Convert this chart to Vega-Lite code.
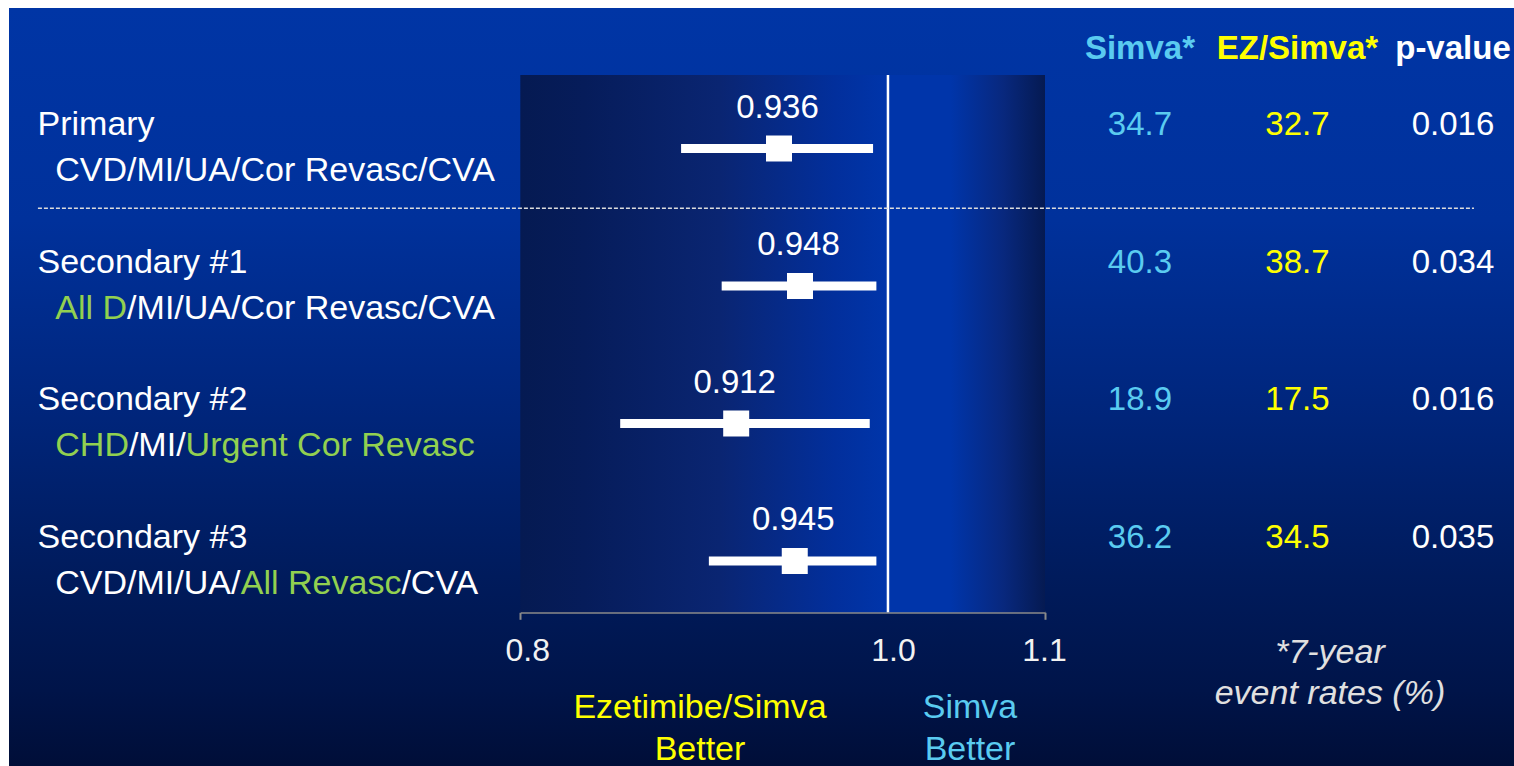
{
  "$schema": "https://vega.github.io/schema/vega-lite/v6.json",
  "width": 1505,
  "height": 758,
  "autosize": {"type": "none"},
  "padding": {"left": 9, "top": 8, "right": 0, "bottom": 0},
  "background": "#ffffff",
  "view": {
    "stroke": null,
    "fill": {
      "gradient": "linear", "x1": 0, "y1": 0, "x2": 0, "y2": 1,
      "stops": [
        {"offset": 0, "color": "#0035a5"},
        {"offset": 0.28, "color": "#00319b"},
        {"offset": 0.5, "color": "#002780"},
        {"offset": 0.75, "color": "#001b5c"},
        {"offset": 0.9, "color": "#001449"},
        {"offset": 1, "color": "#000e38"}
      ]
    }
  },
  "config": {
    "font": "Liberation Sans",
    "view": {"stroke": null},
    "axisY": {"disable": true},
    "text": {"font": "Liberation Sans"}
  },
  "datasets": {
    "results": [
      {"row": 1, "outcome": "Primary", "hr": 0.936, "lo": 0.882, "hi": 0.991, "simva": 34.7, "ezsimva": 32.7, "p": 0.016},
      {"row": 2, "outcome": "Secondary #1", "hr": 0.948, "lo": 0.904, "hi": 0.993, "simva": 40.3, "ezsimva": 38.7, "p": 0.034},
      {"row": 3, "outcome": "Secondary #2", "hr": 0.912, "lo": 0.850, "hi": 0.989, "simva": 18.9, "ezsimva": 17.5, "p": 0.016},
      {"row": 4, "outcome": "Secondary #3", "hr": 0.945, "lo": 0.897, "hi": 0.993, "simva": 36.2, "ezsimva": 34.5, "p": 0.035}
    ],
    "endpoints": [
      {"row": 1, "part": 1, "label": "CVD/MI/UA/Cor Revasc/CVA", "tone": "plain"},
      {"row": 2, "part": 1, "label": "All D", "tone": "new"},
      {"row": 2, "part": 2, "label": "/MI/UA/Cor Revasc/CVA", "tone": "plain"},
      {"row": 3, "part": 1, "label": "CHD", "tone": "new"},
      {"row": 3, "part": 2, "label": "/MI/", "tone": "plain"},
      {"row": 3, "part": 3, "label": "Urgent Cor Revasc", "tone": "new"},
      {"row": 4, "part": 1, "label": "CVD/MI/UA/", "tone": "plain"},
      {"row": 4, "part": 2, "label": "All Revasc", "tone": "new"},
      {"row": 4, "part": 3, "label": "/CVA", "tone": "plain"}
    ]
  },
  "layer": [
    {
      "data": {"values": [{}]},
      "mark": {
        "type": "rect",
        "color": {
          "gradient": "linear", "x1": 0, "y1": 0, "x2": 1, "y2": 0,
          "stops": [
            {"offset": 0, "color": "#051a52"},
            {"offset": 0.12, "color": "#061c5a"},
            {"offset": 0.38, "color": "#0a2572"},
            {"offset": 0.6, "color": "#022f9c"},
            {"offset": 0.7, "color": "#0035aa"},
            {"offset": 0.82, "color": "#0035aa"},
            {"offset": 0.92, "color": "#08287e"},
            {"offset": 1, "color": "#051a52"}
          ]
        }
      },
      "encoding": {
        "x": {
          "datum": 0.8, "type": "quantitative",
          "scale": {"type": "log", "domain": [0.8, 1.1], "range": [511.3, 1036], "nice": false},
          "axis": {
            "values": [0.8, 1, 1.1],
            "format": ".1f",
            "title": null,
            "grid": false,
            "offset": -153.7,
            "domainColor": "#8a8a8a",
            "domainWidth": 2,
            "tickColor": "#8a8a8a",
            "tickWidth": 2,
            "tickSize": 7,
            "tickOpacity": {"condition": {"test": "datum.value == 1", "value": 0}, "value": 1},
            "labelFont": "Liberation Sans",
            "labelFontSize": 32,
            "labelColor": "#f2f2f2",
            "labelPadding": 16,
            "labelOffset": {"condition": [{"test": "datum.value < 0.9", "value": 7}, {"test": "datum.value > 1.05", "value": -1}], "value": 5},
            "labelFlush": false,
            "labelOverlap": false
          }
        },
        "x2": {"datum": 1.1},
        "y": {
          "datum": 0.4655, "type": "quantitative",
          "scale": {"domain": [-0.02182, 5.4909], "reverse": true, "nice": false, "zero": false},
          "axis": null
        },
        "y2": {"datum": 4.3731}
      }
    },
    {
      "data": {"values": [{}]},
      "mark": {"type": "rule", "color": "#ffffff", "strokeWidth": 2.5},
      "encoding": {
        "x": {"datum": 1, "type": "quantitative"},
        "y": {"datum": 0.4655, "type": "quantitative"},
        "y2": {"datum": 4.3731}
      }
    },
    {
      "data": {"values": [{}]},
      "mark": {"type": "rule", "color": "#dcdcdc", "strokeWidth": 1.5, "strokeDash": [4, 2]},
      "encoding": {
        "x": {"datum": 0.59696, "type": "quantitative"},
        "x2": {"datum": 1.42715},
        "y": {"datum": 1.4342, "type": "quantitative"}
      }
    },
    {
      "data": {"name": "results"},
      "mark": {"type": "rule", "color": "#ffffff", "strokeWidth": 9, "strokeCap": "butt"},
      "encoding": {
        "x": {"field": "lo", "type": "quantitative"},
        "x2": {"field": "hi"},
        "y": {"field": "row", "type": "quantitative"}
      }
    },
    {
      "data": {"name": "results"},
      "mark": {"type": "point", "shape": "square", "filled": true, "size": 676, "color": "#ffffff", "opacity": 1},
      "encoding": {
        "x": {"field": "hr", "type": "quantitative"},
        "y": {"field": "row", "type": "quantitative"}
      }
    },
    {
      "data": {"name": "results"},
      "mark": {"type": "text", "fontSize": 33, "color": "#ffffff", "align": "center", "baseline": "middle", "dy": -41, "dx": -1.5},
      "encoding": {
        "x": {"field": "hr", "type": "quantitative"},
        "y": {"field": "row", "type": "quantitative"},
        "text": {"field": "hr", "type": "quantitative", "format": ".3f"}
      }
    },
    {
      "data": {"name": "results"},
      "mark": {"type": "text", "fontSize": 34, "color": "#ffffff", "align": "left", "baseline": "middle", "dy": -23.3},
      "encoding": {
        "x": {"datum": 0.59681, "type": "quantitative"},
        "y": {"field": "row", "type": "quantitative"},
        "text": {"field": "outcome"}
      }
    },
    {
      "data": {"name": "endpoints"},
      "transform": [{"filter": "datum.part == 1"}],
      "mark": {"type": "text", "fontSize": 34, "align": "left", "baseline": "middle", "dy": 22.7},
      "encoding": {
        "x": {"datum": 0.60329, "type": "quantitative"},
        "y": {"field": "row", "type": "quantitative"},
        "text": {"field": "label"},
        "color": {"field": "tone", "type": "nominal", "scale": {"domain": ["plain", "new"], "range": ["#ffffff", "#92d050"]}, "legend": null}
      }
    },
    {
      "data": {"name": "endpoints"},
      "transform": [{"filter": "datum.row == 2 && datum.part == 2"}],
      "mark": {"type": "text", "fontSize": 34, "align": "left", "baseline": "middle", "dy": 22.7},
      "encoding": {
        "x": {"datum": 0.63016, "type": "quantitative"},
        "y": {"field": "row", "type": "quantitative"},
        "text": {"field": "label"},
        "color": {"field": "tone", "type": "nominal", "legend": null}
      }
    },
    {
      "data": {"name": "endpoints"},
      "transform": [{"filter": "datum.row == 3 && datum.part == 2"}],
      "mark": {"type": "text", "fontSize": 34, "align": "left", "baseline": "middle", "dy": 22.7},
      "encoding": {
        "x": {"datum": 0.63085, "type": "quantitative"},
        "y": {"field": "row", "type": "quantitative"},
        "text": {"field": "label"},
        "color": {"field": "tone", "type": "nominal", "legend": null}
      }
    },
    {
      "data": {"name": "endpoints"},
      "transform": [{"filter": "datum.row == 3 && datum.part == 3"}],
      "mark": {"type": "text", "fontSize": 34, "align": "left", "baseline": "middle", "dy": 22.7},
      "encoding": {
        "x": {"datum": 0.65293, "type": "quantitative"},
        "y": {"field": "row", "type": "quantitative"},
        "text": {"field": "label"},
        "color": {"field": "tone", "type": "nominal", "legend": null}
      }
    },
    {
      "data": {"name": "endpoints"},
      "transform": [{"filter": "datum.row == 4 && datum.part == 2"}],
      "mark": {"type": "text", "fontSize": 34, "align": "left", "baseline": "middle", "dy": 22.7},
      "encoding": {
        "x": {"datum": 0.67518, "type": "quantitative"},
        "y": {"field": "row", "type": "quantitative"},
        "text": {"field": "label"},
        "color": {"field": "tone", "type": "nominal", "legend": null}
      }
    },
    {
      "data": {"name": "endpoints"},
      "transform": [{"filter": "datum.row == 4 && datum.part == 3"}],
      "mark": {"type": "text", "fontSize": 34, "align": "left", "baseline": "middle", "dy": 22.7},
      "encoding": {
        "x": {"datum": 0.7443, "type": "quantitative"},
        "y": {"field": "row", "type": "quantitative"},
        "text": {"field": "label"},
        "color": {"field": "tone", "type": "nominal", "legend": null}
      }
    },
    {
      "data": {"name": "results"},
      "mark": {"type": "text", "fontSize": 33, "color": "#5acbf0", "align": "center", "baseline": "middle", "dy": -23.3},
      "encoding": {
        "x": {"datum": 1.16527, "type": "quantitative"},
        "y": {"field": "row", "type": "quantitative"},
        "text": {"field": "simva", "type": "quantitative", "format": ".1f"}
      }
    },
    {
      "data": {"name": "results"},
      "mark": {"type": "text", "fontSize": 33, "color": "#ffff00", "align": "center", "baseline": "middle", "dy": -23.3},
      "encoding": {
        "x": {"datum": 1.28214, "type": "quantitative"},
        "y": {"field": "row", "type": "quantitative"},
        "text": {"field": "ezsimva", "type": "quantitative", "format": ".1f"}
      }
    },
    {
      "data": {"name": "results"},
      "mark": {"type": "text", "fontSize": 33, "color": "#ffffff", "align": "center", "baseline": "middle", "dy": -23.3},
      "encoding": {
        "x": {"datum": 1.40907, "type": "quantitative"},
        "y": {"field": "row", "type": "quantitative"},
        "text": {"field": "p", "type": "quantitative", "format": ".3f"}
      }
    },
    {
      "data": {"values": [{}]},
      "mark": {"type": "text", "text": "Simva*", "fontSize": 33, "fontWeight": "bold", "color": "#5acbf0", "align": "center", "baseline": "middle"},
      "encoding": {
        "x": {"datum": 1.16527, "type": "quantitative"},
        "y": {"datum": 0.2793, "type": "quantitative"}
      }
    },
    {
      "data": {"values": [{}]},
      "mark": {"type": "text", "text": "EZ/Simva*", "fontSize": 33, "fontWeight": "bold", "color": "#ffff00", "align": "center", "baseline": "middle"},
      "encoding": {
        "x": {"datum": 1.28214, "type": "quantitative"},
        "y": {"datum": 0.2793, "type": "quantitative"}
      }
    },
    {
      "data": {"values": [{}]},
      "mark": {"type": "text", "text": "p-value", "fontSize": 33, "fontWeight": "bold", "color": "#ffffff", "align": "center", "baseline": "middle"},
      "encoding": {
        "x": {"datum": 1.40907, "type": "quantitative"},
        "y": {"datum": 0.2793, "type": "quantitative"}
      }
    },
    {
      "data": {"values": [{}]},
      "mark": {"type": "text", "text": "Ezetimibe/Simva", "fontSize": 34, "color": "#ffff00", "align": "center", "baseline": "middle"},
      "encoding": {
        "x": {"datum": 0.89218, "type": "quantitative"},
        "y": {"datum": 5.0691, "type": "quantitative"}
      }
    },
    {
      "data": {"values": [{}]},
      "mark": {"type": "text", "text": "Better", "fontSize": 34, "color": "#ffff00", "align": "center", "baseline": "middle"},
      "encoding": {
        "x": {"datum": 0.89218, "type": "quantitative"},
        "y": {"datum": 5.3745, "type": "quantitative"}
      }
    },
    {
      "data": {"values": [{}]},
      "mark": {"type": "text", "text": "Simva", "fontSize": 34, "color": "#5acbf0", "align": "center", "baseline": "middle"},
      "encoding": {
        "x": {"datum": 1.05105, "type": "quantitative"},
        "y": {"datum": 5.0691, "type": "quantitative"}
      }
    },
    {
      "data": {"values": [{}]},
      "mark": {"type": "text", "text": "Better", "fontSize": 34, "color": "#5acbf0", "align": "center", "baseline": "middle"},
      "encoding": {
        "x": {"datum": 1.05105, "type": "quantitative"},
        "y": {"datum": 5.3745, "type": "quantitative"}
      }
    },
    {
      "data": {"values": [{}]},
      "mark": {"type": "text", "text": "*7-year", "fontSize": 34, "fontStyle": "italic", "color": "#e0e0e0", "align": "center", "baseline": "middle"},
      "encoding": {
        "x": {"datum": 1.30768, "type": "quantitative"},
        "y": {"datum": 4.6691, "type": "quantitative"}
      }
    },
    {
      "data": {"values": [{}]},
      "mark": {"type": "text", "text": "event rates (%)", "fontSize": 34, "fontStyle": "italic", "color": "#e0e0e0", "align": "center", "baseline": "middle"},
      "encoding": {
        "x": {"datum": 1.30768, "type": "quantitative"},
        "y": {"datum": 4.9673, "type": "quantitative"}
      }
    }
  ]
}
